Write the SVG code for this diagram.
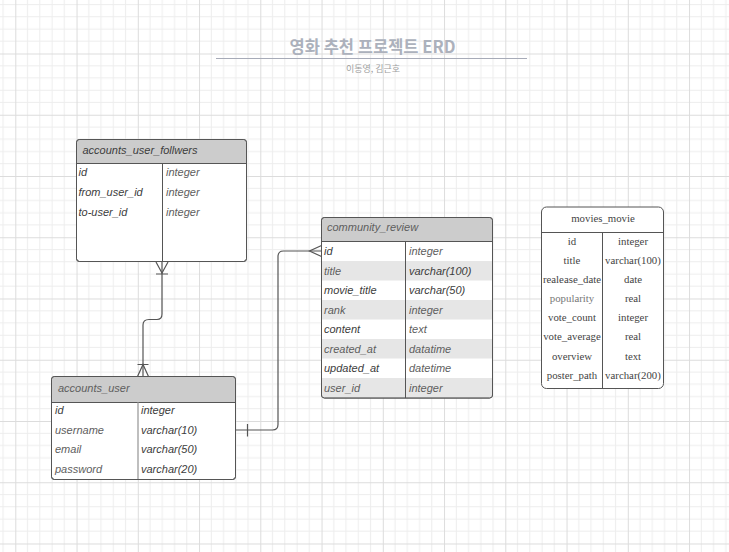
<svg xmlns="http://www.w3.org/2000/svg" width="729" height="552" viewBox="0 0 729 552">
<defs>
<pattern id="grid" patternUnits="userSpaceOnUse" x="15.3" y="53.5" width="61.25" height="61.25">
<path d="M12.25,0V61.25M24.5,0V61.25M36.75,0V61.25M49,0V61.25M0,12.25H61.25M0,24.5H61.25M0,36.75H61.25M0,49H61.25" stroke="#ededed" stroke-width="1" fill="none"/>
<path d="M0.5,0V61.25M0,0.5H61.25" stroke="#dcdcdc" stroke-width="1" fill="none"/>
</pattern>
<style>
.box{fill:#fff;stroke:#555;stroke-width:1}
.outline{fill:none;stroke:#555;stroke-width:1}
.hdr{fill:#cccccc;stroke:none}
.sep{stroke:#555;stroke-width:1;fill:none}
.alt{fill:#e6e6e6}
.t{font-family:"Liberation Sans",Arial,sans-serif;font-size:11px;font-style:italic;fill:#3c3c3c}
.tl{font-family:"Liberation Sans",Arial,sans-serif;font-size:11px;font-style:italic;fill:#5e5e5e}
.s{font-family:"Liberation Serif","Times New Roman",serif;font-size:10.8px;fill:#444;text-anchor:middle}
.conn{fill:none;stroke:#555;stroke-width:1.2}
</style>
</defs>
<rect width="729" height="552" fill="#fff"/>
<rect width="729" height="552" fill="url(#grid)"/>

<g id="title">
<text x="372.5" y="52.5" text-anchor="middle" font-family="'Noto Sans CJK KR','Liberation Sans',sans-serif" font-size="16.5" font-weight="bold" fill="#acb1bc">영화 추천 프로젝트 ERD</text>
<line x1="216" y1="58.5" x2="527" y2="58.5" stroke="#a7abb8" stroke-width="1.2"/>
<text x="373" y="72" text-anchor="middle" font-family="'Noto Sans CJK KR','Liberation Sans',sans-serif" font-size="9" fill="#a0a0a0">이동영, 김근호</text>
</g>

<g id="connectors">
<path class="conn" d="M162,262V314Q162,319.5 157,319.5H149Q143,319.5 143,325V376"/>
<path class="conn" d="M156,262L162,273L168,262M156,274H168"/>
<path class="conn" d="M137.5,364.5H148.5M137.5,376.5L143,364.5L148.5,376.5"/>
<path class="conn" d="M235.5,430H272.5Q278,430 278,424.5V256.5Q278,251 283.5,251H321.5"/>
<path class="conn" d="M247.5,424V436.5"/>
<path class="conn" d="M321.5,245.5L309.5,251L321.5,256.5"/>
</g>

<g id="accounts_user_follwers">
<rect class="box" x="76.5" y="139.5" width="170" height="122" rx="3"/>
<path class="hdr" d="M77,163.5V142.5Q77,140 79.5,140H243.5Q246,140 246,142.5V163.5Z"/>
<line class="sep" x1="76.5" y1="163.5" x2="246.5" y2="163.5"/>
<line class="sep" x1="162.5" y1="163.5" x2="162.5" y2="261.5"/>
<rect class="outline" x="76.5" y="139.5" width="170" height="122" rx="3"/>
<text class="t" x="82.5" y="153.5">accounts_user_follwers</text>
<text class="t" x="78.5" y="176">id</text>
<text class="t" x="78.5" y="196">from_user_id</text>
<text class="t" x="78.5" y="215.5">to-user_id</text>
<text class="tl" x="166" y="176">integer</text>
<text class="tl" x="166" y="196">integer</text>
<text class="tl" x="166" y="215.5">integer</text>
</g>

<g id="accounts_user">
<rect class="box" x="51.5" y="376.5" width="184" height="103" rx="3"/>
<path class="hdr" d="M52,402.5V379.5Q52,377 54.5,377H232.5Q235,377 235,379.5V402.5Z"/>
<line class="sep" x1="51.5" y1="402.5" x2="235.5" y2="402.5"/>
<line x1="138" y1="402.5" x2="138" y2="479" stroke="#aaa" stroke-width="1.5"/>
<rect class="outline" x="51.5" y="376.5" width="184" height="103" rx="3"/>
<text class="tl" x="58" y="391.5">accounts_user</text>
<text class="t" x="55" y="414">id</text>
<text class="tl" x="55" y="433.5">username</text>
<text class="tl" x="55" y="453">email</text>
<text class="tl" x="55" y="472.5">password</text>
<text class="t" x="141" y="414">integer</text>
<text class="t" x="141" y="433.5">varchar(10)</text>
<text class="t" x="141" y="453">varchar(50)</text>
<text class="t" x="141" y="472.5">varchar(20)</text>
</g>

<g id="community_review">
<rect class="box" x="321.5" y="217.5" width="171" height="180.5" rx="3"/>
<path class="hdr" d="M322,241.5V220.5Q322,218 324.5,218H489.5Q492,218 492,220.5V241.5Z"/>
<rect class="alt" x="322" y="261" width="170" height="19.5"/>
<rect class="alt" x="322" y="300" width="170" height="19.5"/>
<rect class="alt" x="322" y="339" width="170" height="19.5"/>
<rect class="alt" x="322" y="378" width="170" height="19.5"/>
<line class="sep" x1="321.5" y1="241.5" x2="492.5" y2="241.5"/>
<line class="sep" x1="405.5" y1="241.5" x2="405.5" y2="398"/>
<rect class="outline" x="321.5" y="217.5" width="171" height="180.5" rx="3"/>
<text class="tl" x="327" y="231">community_review</text>
<text class="t" x="324" y="255">id</text>
<text class="tl" x="324" y="274.5">title</text>
<text class="t" x="324" y="294">movie_title</text>
<text class="tl" x="324" y="313.5">rank</text>
<text class="t" x="324" y="333">content</text>
<text class="tl" x="324" y="352.5">created_at</text>
<text class="t" x="324" y="372">updated_at</text>
<text class="tl" x="324" y="391.5">user_id</text>
<text class="tl" x="409" y="255">integer</text>
<text class="t" x="409" y="274.5">varchar(100)</text>
<text class="t" x="409" y="294">varchar(50)</text>
<text class="tl" x="409" y="313.5">integer</text>
<text class="tl" x="409" y="333">text</text>
<text class="tl" x="409" y="352.5">datatime</text>
<text class="tl" x="409" y="372">datetime</text>
<text class="tl" x="409" y="391.5">integer</text>
</g>

<g id="movies_movie">
<rect class="box" x="541.5" y="207" width="122" height="181.5" rx="5"/>
<line class="sep" x1="541.5" y1="232.5" x2="663.5" y2="232.5"/>
<line class="sep" x1="602.5" y1="232.5" x2="602.5" y2="388.5"/>
<text class="s" x="603" y="222">movies_movie</text>
<text class="s" x="572" y="245">id</text>
<text class="s" x="572" y="264">title</text>
<text class="s" x="572" y="283">realease_date</text>
<text class="s" x="572" y="302" style="fill:#777">popularity</text>
<text class="s" x="572" y="321">vote_count</text>
<text class="s" x="572" y="340">vote_average</text>
<text class="s" x="572" y="359.5">overview</text>
<text class="s" x="572" y="378.5">poster_path</text>
<text class="s" x="633" y="245">integer</text>
<text class="s" x="633" y="264">varchar(100)</text>
<text class="s" x="633" y="283">date</text>
<text class="s" x="633" y="302">real</text>
<text class="s" x="633" y="321">integer</text>
<text class="s" x="633" y="340">real</text>
<text class="s" x="633" y="359.5">text</text>
<text class="s" x="633" y="378.5">varchar(200)</text>
</g>
</svg>
